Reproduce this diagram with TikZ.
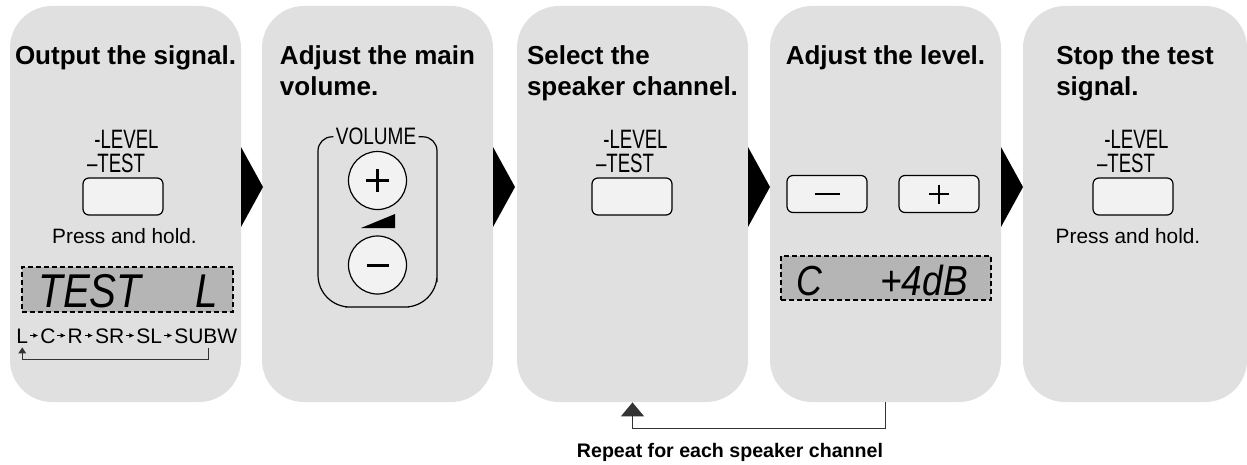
\documentclass[tikz,border=0pt]{standalone}
\usepackage{fontspec}
\setmainfont{Liberation Sans}
\usetikzlibrary{positioning,calc,arrows.meta}
\definecolor{panelgray}{HTML}{E0E0E0}
\definecolor{lcdgray}{HTML}{B5B5B5}
\definecolor{keygray}{HTML}{F2F2F2}
\newcommand{\slim}[2][0.7]{\scalebox{#1}[1]{#2}}
\tikzset{
  panel/.style={fill=panelgray, rounded corners=21pt, minimum height=198pt, inner sep=0pt},
  steptitle/.style={font=\fontsize{13}{15.5}\selectfont\bfseries, align=left, inner sep=0pt},
  key/.style={draw, fill=keygray, rounded corners=3pt, minimum width=40pt, minimum height=18.5pt, line width=0.6pt},
  roundkey/.style={draw, circle, fill=keygray, minimum size=29pt, inner sep=0pt, line width=0.6pt},
  keylabel/.style={font=\fontsize{13.3}{13.3}\selectfont, inner sep=0pt, anchor=base},
  hint/.style={font=\fontsize{10.4}{12}\selectfont, inner sep=0pt, anchor=base},
  lcd/.style={draw, dash pattern=on 2.5pt off 1.5pt, fill=lcdgray, line width=0.6pt, inner sep=0pt},
  lcdtext/.style={font=\fontsize{23.7}{24}\selectfont\itshape, inner sep=0pt, anchor=base west},
  chan/.style={font=\fontsize{10.5}{12}\selectfont, inner sep=0pt, text height=7.5pt, text depth=0pt},
  chanarrow/.style={-{Latex[length=2.5pt,width=2.5pt]}, line width=0.5pt, shorten <=0.8pt, shorten >=0.8pt},
  loopback/.style={line width=0.6pt, black!80, -{Triangle[length=3pt,width=3.8pt]}},
  repeatback/.style={line width=0.6pt, black!80, -{Triangle[length=7pt,width=11.5pt]}},
}
\begin{document}
\begin{tikzpicture}[x=0.5pt, y=-0.5pt]
\useasboundingbox (0,0) rectangle (1247,465);

\node[panel, minimum width=115.5pt] (p1) at (125.5,204) {};
\node[panel, minimum width=115.5pt] (p2) at (377.5,204) {};
\node[panel, minimum width=115.5pt] (p3) at (632.5,204) {};
\node[panel, minimum width=115.5pt] (p4) at (885.5,204) {};
\node[panel, minimum width=112pt] (p5) at (1135,204) {};
\foreach \x in {241,493,748,1001}
  \fill (\x,147) -- (\x+22,187) -- (\x,227) -- cycle;

\node[steptitle, below=20pt of p1.north] (t1) {Output the signal.};
\node[steptitle, below=20pt of p2.north] (t2) {Adjust the main\\volume.};
\node[steptitle, below=20pt of p3.north] (t3) {Select the\\speaker channel.};
\node[steptitle, below=20pt of p4.north] (t4) {Adjust the level.};
\node[steptitle, below=20pt of p5.north] (t5) {Stop the test\\signal.};

% output the signal
\node[key] (k1) at (123,196.5) {};
\node[keylabel] (test1) at ($(k1.north)+(-7,-5)$) {\slim{–TEST}};
\node[keylabel] (level1) at ($(k1.north)+(3.5,-29)$) {\slim{-LEVEL}};
\node[hint] (hold1) at (124.5,243) {Press and hold.};
\node[lcd, minimum width=105.5pt, minimum height=22.5pt] (lcd1) at (127.5,289.5) {};
\node[lcdtext] (lcdtest) at (38,307) {\slim[0.85]{TEST}};
\node[lcdtext] (lcdch) at (195,307) {\slim[0.85]{L}};
\node[chan, anchor=base west] (chL) at (16,343) {L};
\node[chan, right=5.7pt of chL] (chC) {C};
\node[chan, right=5.7pt of chC] (chR) {R};
\node[chan, right=5.7pt of chR] (chSR) {SR};
\node[chan, right=5.7pt of chSR] (chSL) {SL};
\node[chan, right=5.7pt of chSL] (chSUBW) {SUBW};
\foreach \a/\b in {chL/chC,chC/chR,chR/chSR,chSR/chSL,chSL/chSUBW}
  \draw[chanarrow] (\a) -- (\b);
\draw[loopback] ($(chSUBW.south)+(3,5)$) -- ++(0,11) -| ($(chL.south)+(0,4)$);

% main volume
\node[font=\fontsize{11.9}{12}\selectfont, inner sep=1pt, anchor=base] (vol) at (376,145) {\slim[0.8]{VOLUME}};
\draw[line width=0.6pt, rounded corners=7pt] (vol.west) -| (318,250) [rounded corners=16pt] |- (377,307) -| (437,250) [rounded corners=7pt] |- (vol.east);
\node[roundkey] (vup) at (377.5,180.5) {};
\node[roundkey] (vdown) at (377.5,265) {};
\draw[line width=1.5pt] ($(vup)+(-11.5,0)$) -- ($(vup)+(11.5,0)$) ($(vup)+(0,-11.5)$) -- ($(vup)+(0,11.5)$);
\draw[line width=1.5pt] ($(vdown)+(-11,0)$) -- ($(vdown)+(11,0)$);
\fill (361,228) -- (395,228) -- (395,214) -- cycle;

% speaker channel
\node[key] (k3) at (632,196.5) {};
\node[keylabel] (test3) at ($(k3.north)+(-7,-5)$) {\slim{–TEST}};
\node[keylabel] (level3) at ($(k3.north)+(3.5,-29)$) {\slim{-LEVEL}};

% level
\node[key] (kminus) at (827,194) {};
\node[key] (kplus) at (939,194) {};
\draw[line width=0.6pt] ($(kminus)+(-12.5,0)$) -- ($(kminus)+(12.5,0)$);
\draw[line width=0.6pt] ($(kplus)+(-10,0)$) -- ($(kplus)+(10,0)$) ($(kplus)+(0,-9.5)$) -- ($(kplus)+(0,9.5)$);
\node[lcd, minimum width=105pt, minimum height=22pt] (lcd4) at (886,278) {};
\node[lcdtext, font=\fontsize{21}{21}\selectfont\itshape] (lcdC) at (796,295) {\slim[0.85]{C}};
\node[lcdtext, font=\fontsize{21}{21}\selectfont\itshape] (lcddb) at (880,295) {\slim[0.88]{+4dB}};

% stop
\node[key] (k5) at (1133,196.5) {};
\node[keylabel] (test5) at ($(k5.north)+(-7,-5)$) {\slim{–TEST}};
\node[keylabel] (level5) at ($(k5.north)+(3.5,-29)$) {\slim{-LEVEL}};
\node[hint] (hold5) at (1128,243) {Press and hold.};

\draw[repeatback] (p4.south) -- ++(0,26) -| (p3.south);
\node[font=\fontsize{9.8}{12}\selectfont\bfseries, anchor=base] (repeat) at (730,457) {Repeat for each speaker channel};
\end{tikzpicture}
\end{document}
